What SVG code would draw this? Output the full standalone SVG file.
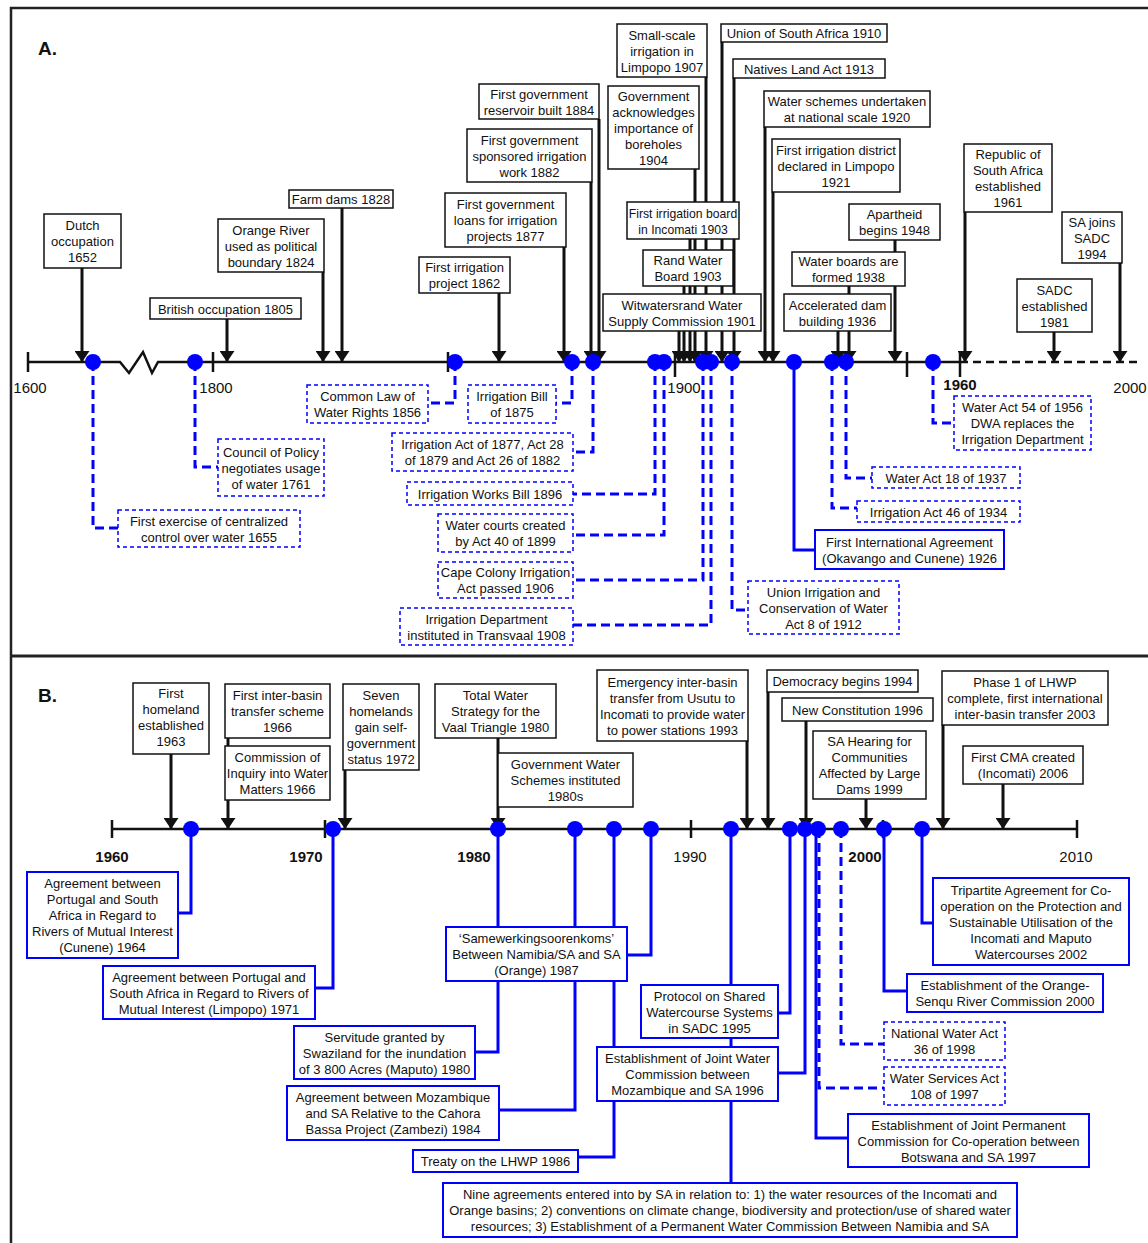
<svg xmlns="http://www.w3.org/2000/svg" width="1148" height="1243" viewBox="0 0 1148 1243">
<style>
.t{font-family:"Liberation Sans",Arial,sans-serif;font-size:13px;fill:#111;text-anchor:middle}
.yr{font-family:"Liberation Sans",Arial,sans-serif;font-size:15px;fill:#111;text-anchor:middle}
.yb{font-family:"Liberation Sans",Arial,sans-serif;font-size:15px;font-weight:bold;fill:#111;text-anchor:middle}
.pl{font-family:"Liberation Sans",Arial,sans-serif;font-size:19px;font-weight:bold;fill:#111}
.bx{fill:#fff;stroke:#111;stroke-width:1.5}
.bb{fill:#fff;stroke:#0000ff;stroke-width:2}
.bd{fill:#fff;stroke:#0000ff;stroke-width:1.5;stroke-dasharray:4 3}
.ax{stroke:#111;stroke-width:2.5;fill:none}
.axd{stroke:#111;stroke-width:2.5;fill:none;stroke-dasharray:8 5}
.ar{stroke:#111;stroke-width:3;fill:none;marker-end:url(#ah)}
.cs{stroke:#0000ff;stroke-width:3;fill:none}
.cd{stroke:#0000ff;stroke-width:3;fill:none;stroke-dasharray:9 5}
.dot{fill:#0000ff}
</style>
<defs>
<marker id="ah" viewBox="0 0 11 15" refX="11" refY="7.5" markerWidth="11" markerHeight="15" markerUnits="userSpaceOnUse" orient="auto">
<path d="M0,0 L11,7.5 L0,15 z" fill="#111"/>
</marker>
</defs>
<rect width="1148" height="1243" fill="#fff"/>
<g id="frame">
<rect x="11" y="8" width="1145" height="1245" fill="none" stroke="#222" stroke-width="2.5"/>
<line x1="11" y1="656" x2="1148" y2="656" stroke="#222" stroke-width="3"/>
<text class="pl" x="38" y="55">A.</text>
<text class="pl" x="38" y="702">B.</text>
</g>
<g id="axisA">
<path class="ax" d="M28,362 H120 L129,373 L143,352 L152,373 L158,362 H960"/>
<path class="axd" d="M960,362 H1142"/>
<path class="ax" d="M28,352 V372 M213,352 V372 M448,352 V372 M675,352 V377 M907,352 V377 M960,352 V377"/>
<text class="yr" x="30" y="393">1600</text>
<text class="yr" x="216" y="393">1800</text>
<text class="yr" x="684" y="393">1900</text>
<text class="yb" x="960" y="390">1960</text>
<text class="yr" x="1130" y="393">2000</text>
</g>
<g id="axisB">
<path class="ax" d="M112,829 H1077 M112,820 V838 M325,820 V838 M691,820 V838 M883,820 V838 M1077,820 V838"/>
<text class="yb" x="112" y="862">1960</text>
<text class="yb" x="306" y="862">1970</text>
<text class="yb" x="474" y="862">1980</text>
<text class="yr" x="690" y="862">1990</text>
<text class="yb" x="865" y="862">2000</text>
<text class="yr" x="1076" y="862">2010</text>
</g>
<g id="connectors">
<path class="ar" d="M82,268 V362"/>
<path class="ar" d="M227,319 V362"/>
<path class="ar" d="M323,272 V362"/>
<path class="ar" d="M342,208 V362"/>
<path class="ar" d="M499,293 V362"/>
<path class="ar" d="M564,247 V362"/>
<path class="ar" d="M591,182 V362"/>
<path class="ar" d="M599,119 V362"/>
<path class="ar" d="M706,77 V362"/>
<path class="ar" d="M695,169 V362"/>
<path class="ar" d="M690,239 V362"/>
<path class="ar" d="M684,286 V362"/>
<path class="ar" d="M679,331 V362"/>
<path class="ar" d="M722,42 V362"/>
<path class="ar" d="M734,78 V362"/>
<path class="ar" d="M765,127 V362"/>
<path class="ar" d="M773,192 V362"/>
<path class="ar" d="M895,240 V362"/>
<path class="ar" d="M849,286 V362"/>
<path class="ar" d="M838,331 V362"/>
<path class="ar" d="M965,212 V362"/>
<path class="ar" d="M1120,263 V362"/>
<path class="ar" d="M1054,332 V362"/>
<path class="cd" d="M93,362 V528 H118"/>
<path class="cd" d="M195,362 V467 H218"/>
<path class="cd" d="M455,362 V403 H428"/>
<path class="cd" d="M572,362 V403 H556"/>
<path class="cd" d="M593,362 V452 H573"/>
<path class="cd" d="M655,362 V494 H573"/>
<path class="cd" d="M664,362 V535 H573"/>
<path class="cd" d="M703,362 V580 H573"/>
<path class="cd" d="M711,362 V625 H573"/>
<path class="cd" d="M732,362 V610 H748"/>
<path class="cs" d="M794,362 V550 H815"/>
<path class="cd" d="M832,362 V508 H857"/>
<path class="cd" d="M846,362 V478 H872"/>
<path class="cd" d="M933,362 V423 H954"/>
<path class="ar" d="M171,754 V829"/>
<path class="ar" d="M228,738 V829"/>
<path class="ar" d="M345,770 V829"/>
<path class="ar" d="M498,738 V829"/>
<path class="ar" d="M747,741 V829"/>
<path class="ar" d="M768,692 V829"/>
<path class="ar" d="M806,721 V829"/>
<path class="ar" d="M866,799 V829"/>
<path class="ar" d="M943,725 V829"/>
<path class="ar" d="M1003,784 V829"/>
<path class="cs" d="M191,829 V913 H178"/>
<path class="cs" d="M333,829 V988 H315"/>
<path class="cs" d="M498,829 V1052 H475"/>
<path class="cs" d="M575,829 V1110 H499"/>
<path class="cs" d="M614,829 V1157 H578"/>
<path class="cs" d="M651,829 V955 H627"/>
<path class="cs" d="M731,829 V1183"/>
<path class="cs" d="M790,829 V1013 H778"/>
<path class="cs" d="M805,829 V1073 H778"/>
<path class="cs" d="M816,829 V1138 H848"/>
<path class="cd" d="M819,829 V1088 H884"/>
<path class="cd" d="M841,829 V1044 H884"/>
<path class="cs" d="M884,829 V991 H907"/>
<path class="cs" d="M922,829 V923 H933"/>
</g>
<g id="dots">
<circle class="dot" cx="93" cy="362" r="8"/>
<circle class="dot" cx="195" cy="362" r="8"/>
<circle class="dot" cx="455" cy="362" r="8"/>
<circle class="dot" cx="572" cy="362" r="8"/>
<circle class="dot" cx="593" cy="362" r="8"/>
<circle class="dot" cx="655" cy="362" r="8"/>
<circle class="dot" cx="664" cy="362" r="8"/>
<circle class="dot" cx="703" cy="362" r="8"/>
<circle class="dot" cx="711" cy="362" r="8"/>
<circle class="dot" cx="732" cy="362" r="8"/>
<circle class="dot" cx="794" cy="362" r="8"/>
<circle class="dot" cx="832" cy="362" r="8"/>
<circle class="dot" cx="846" cy="362" r="8"/>
<circle class="dot" cx="933" cy="362" r="8"/>
<circle class="dot" cx="191" cy="829" r="8"/>
<circle class="dot" cx="333" cy="829" r="8"/>
<circle class="dot" cx="498" cy="829" r="8"/>
<circle class="dot" cx="575" cy="829" r="8"/>
<circle class="dot" cx="614" cy="829" r="8"/>
<circle class="dot" cx="651" cy="829" r="8"/>
<circle class="dot" cx="731" cy="829" r="8"/>
<circle class="dot" cx="790" cy="829" r="8"/>
<circle class="dot" cx="805" cy="829" r="8"/>
<circle class="dot" cx="818" cy="829" r="8"/>
<circle class="dot" cx="841" cy="829" r="8"/>
<circle class="dot" cx="884" cy="829" r="8"/>
<circle class="dot" cx="922" cy="829" r="8"/>
</g>
<g id="a1652"><rect class="bx" x="44" y="214" width="77" height="54"/><text class="t" y="230"><tspan x="82.5">Dutch</tspan><tspan x="82.5" dy="16">occupation</tspan><tspan x="82.5" dy="16">1652</tspan></text></g>
<g id="a1805"><rect class="bx" x="150" y="298" width="151" height="21"/><text class="t" x="225.5" y="313.5">British occupation 1805</text></g>
<g id="a1824"><rect class="bx" x="218" y="219" width="106" height="53"/><text class="t" y="234.5"><tspan x="271">Orange River</tspan><tspan x="271" dy="16">used as political</tspan><tspan x="271" dy="16">boundary 1824</tspan></text></g>
<g id="a1828"><rect class="bx" x="289" y="190" width="104" height="18"/><text class="t" x="341" y="204">Farm dams 1828</text></g>
<g id="a1862"><rect class="bx" x="419" y="257" width="91" height="36"/><text class="t" y="272"><tspan x="464.5">First irrigation</tspan><tspan x="464.5" dy="16">project 1862</tspan></text></g>
<g id="a1877"><rect class="bx" x="445" y="193" width="121" height="54"/><text class="t" y="209"><tspan x="505.5">First government</tspan><tspan x="505.5" dy="16">loans for irrigation</tspan><tspan x="505.5" dy="16">projects 1877</tspan></text></g>
<g id="a1882"><rect class="bx" x="467" y="129" width="125" height="53"/><text class="t" y="144.5"><tspan x="529.5">First government</tspan><tspan x="529.5" dy="16">sponsored irrigation</tspan><tspan x="529.5" dy="16">work 1882</tspan></text></g>
<g id="a1884"><rect class="bx" x="479" y="84" width="120" height="35"/><text class="t" y="98.5"><tspan x="539">First government</tspan><tspan x="539" dy="16">reservoir built 1884</tspan></text></g>
<g id="a1907"><rect class="bx" x="617" y="24" width="90" height="53"/><text class="t" y="39.5"><tspan x="662">Small-scale</tspan><tspan x="662" dy="16">irrigation in</tspan><tspan x="662" dy="16">Limpopo 1907</tspan></text></g>
<g id="a1904"><rect class="bx" x="608" y="86" width="91" height="83"/><text class="t" y="100.5"><tspan x="653.5">Government</tspan><tspan x="653.5" dy="16">acknowledges</tspan><tspan x="653.5" dy="16">importance of</tspan><tspan x="653.5" dy="16">boreholes</tspan><tspan x="653.5" dy="16">1904</tspan></text></g>
<g id="a1903b"><rect class="bx" x="627" y="202" width="112" height="37"/><text class="t" y="217.5" style="font-size:12.2px"><tspan x="683">First irrigation board</tspan><tspan x="683" dy="16">in Incomati 1903</tspan></text></g>
<g id="a1903r"><rect class="bx" x="643" y="250" width="90" height="36"/><text class="t" y="265"><tspan x="688">Rand Water</tspan><tspan x="688" dy="16">Board 1903</tspan></text></g>
<g id="a1901"><rect class="bx" x="603" y="294" width="158" height="37"/><text class="t" y="309.5"><tspan x="682">Witwatersrand Water</tspan><tspan x="682" dy="16">Supply Commission 1901</tspan></text></g>
<g id="a1910"><rect class="bx" x="721" y="24" width="166" height="18"/><text class="t" x="804" y="38">Union of South Africa 1910</text></g>
<g id="a1913"><rect class="bx" x="733" y="59" width="152" height="19"/><text class="t" x="809" y="73.5">Natives Land Act 1913</text></g>
<g id="a1920"><rect class="bx" x="764" y="91" width="166" height="36"/><text class="t" y="106"><tspan x="847">Water schemes undertaken</tspan><tspan x="847" dy="16">at national scale 1920</tspan></text></g>
<g id="a1921"><rect class="bx" x="772" y="139" width="128" height="53"/><text class="t" y="154.5"><tspan x="836">First irrigation district</tspan><tspan x="836" dy="16">declared in Limpopo</tspan><tspan x="836" dy="16">1921</tspan></text></g>
<g id="a1948"><rect class="bx" x="849" y="204" width="91" height="36"/><text class="t" y="219"><tspan x="894.5">Apartheid</tspan><tspan x="894.5" dy="16">begins 1948</tspan></text></g>
<g id="a1938"><rect class="bx" x="792" y="252" width="113" height="34"/><text class="t" y="266"><tspan x="848.5">Water boards are</tspan><tspan x="848.5" dy="16">formed 1938</tspan></text></g>
<g id="a1936"><rect class="bx" x="784" y="294" width="107" height="37"/><text class="t" y="309.5"><tspan x="837.5">Accelerated dam</tspan><tspan x="837.5" dy="16">building 1936</tspan></text></g>
<g id="a1961"><rect class="bx" x="964" y="144" width="88" height="68"/><text class="t" y="159"><tspan x="1008">Republic of</tspan><tspan x="1008" dy="16">South Africa</tspan><tspan x="1008" dy="16">established</tspan><tspan x="1008" dy="16">1961</tspan></text></g>
<g id="a1994"><rect class="bx" x="1062" y="212" width="60" height="51"/><text class="t" y="226.5"><tspan x="1092">SA joins</tspan><tspan x="1092" dy="16">SADC</tspan><tspan x="1092" dy="16">1994</tspan></text></g>
<g id="a1981"><rect class="bx" x="1017" y="279" width="75" height="53"/><text class="t" y="294.5"><tspan x="1054.5">SADC</tspan><tspan x="1054.5" dy="16">established</tspan><tspan x="1054.5" dy="16">1981</tspan></text></g>
<g id="w1655"><rect class="bd" x="118" y="510" width="182" height="37"/><text class="t" y="525.5"><tspan x="209">First exercise of centralized</tspan><tspan x="209" dy="16">control over water 1655</tspan></text></g>
<g id="w1761"><rect class="bd" x="218" y="439" width="106" height="57"/><text class="t" y="456.5"><tspan x="271">Council of Policy</tspan><tspan x="271" dy="16">negotiates usage</tspan><tspan x="271" dy="16">of water 1761</tspan></text></g>
<g id="w1856"><rect class="bd" x="307" y="385" width="121" height="38"/><text class="t" y="401"><tspan x="367.5">Common Law of</tspan><tspan x="367.5" dy="16">Water Rights 1856</tspan></text></g>
<g id="w1875"><rect class="bd" x="468" y="385" width="88" height="38"/><text class="t" y="401"><tspan x="512">Irrigation Bill</tspan><tspan x="512" dy="16">of 1875</tspan></text></g>
<g id="w1877"><rect class="bd" x="392" y="433" width="181" height="38"/><text class="t" y="449"><tspan x="482.5">Irrigation Act of 1877, Act 28</tspan><tspan x="482.5" dy="16">of 1879 and Act 26 of 1882</tspan></text></g>
<g id="w1896"><rect class="bd" x="407" y="482" width="166" height="23"/><text class="t" x="490" y="498.5">Irrigation Works Bill 1896</text></g>
<g id="w1899"><rect class="bd" x="438" y="514" width="135" height="38"/><text class="t" y="530"><tspan x="505.5">Water courts created</tspan><tspan x="505.5" dy="16">by Act 40 of 1899</tspan></text></g>
<g id="w1906"><rect class="bd" x="438" y="562" width="135" height="36"/><text class="t" y="577"><tspan x="505.5">Cape Colony Irrigation</tspan><tspan x="505.5" dy="16">Act passed 1906</tspan></text></g>
<g id="w1908"><rect class="bd" x="400" y="608" width="173" height="37"/><text class="t" y="623.5"><tspan x="486.5">Irrigation Department</tspan><tspan x="486.5" dy="16">instituted in Transvaal 1908</tspan></text></g>
<g id="w1912"><rect class="bd" x="748" y="581" width="151" height="53"/><text class="t" y="596.5"><tspan x="823.5">Union Irrigation and</tspan><tspan x="823.5" dy="16">Conservation of Water</tspan><tspan x="823.5" dy="16">Act 8 of 1912</tspan></text></g>
<g id="w1926"><rect class="bb" x="815" y="530" width="189" height="39"/><text class="t" y="546.5"><tspan x="909.5">First International Agreement</tspan><tspan x="909.5" dy="16">(Okavango and Cunene) 1926</tspan></text></g>
<g id="w1934"><rect class="bd" x="857" y="501" width="163" height="21"/><text class="t" x="938.5" y="516.5">Irrigation Act 46 of 1934</text></g>
<g id="w1937"><rect class="bd" x="872" y="467" width="148" height="21"/><text class="t" x="946" y="482.5">Water Act 18 of 1937</text></g>
<g id="w1956"><rect class="bd" x="954" y="396" width="137" height="54"/><text class="t" y="412"><tspan x="1022.5">Water Act 54 of 1956</tspan><tspan x="1022.5" dy="16">DWA replaces the</tspan><tspan x="1022.5" dy="16">Irrigation Department</tspan></text></g>
<g id="b1963"><rect class="bx" x="133" y="683" width="76" height="71"/><text class="t" y="698"><tspan x="171">First</tspan><tspan x="171" dy="16">homeland</tspan><tspan x="171" dy="16">established</tspan><tspan x="171" dy="16">1963</tspan></text></g>
<g id="b1966a"><rect class="bx" x="225" y="684" width="105" height="54"/><text class="t" y="700"><tspan x="277.5">First inter-basin</tspan><tspan x="277.5" dy="16">transfer scheme</tspan><tspan x="277.5" dy="16">1966</tspan></text></g>
<g id="b1966b"><rect class="bx" x="225" y="746" width="105" height="54"/><text class="t" y="762"><tspan x="277.5">Commission of</tspan><tspan x="277.5" dy="16">Inquiry into Water</tspan><tspan x="277.5" dy="16">Matters 1966</tspan></text></g>
<g id="b1972"><rect class="bx" x="343" y="684" width="76" height="86"/><text class="t" y="700"><tspan x="381">Seven</tspan><tspan x="381" dy="16">homelands</tspan><tspan x="381" dy="16">gain self-</tspan><tspan x="381" dy="16">government</tspan><tspan x="381" dy="16">status 1972</tspan></text></g>
<g id="b1980"><rect class="bx" x="435" y="684" width="121" height="54"/><text class="t" y="700"><tspan x="495.5">Total Water</tspan><tspan x="495.5" dy="16">Strategy for the</tspan><tspan x="495.5" dy="16">Vaal Triangle 1980</tspan></text></g>
<g id="b1980s"><rect class="bx" x="498" y="753" width="135" height="54"/><text class="t" y="769"><tspan x="565.5">Government Water</tspan><tspan x="565.5" dy="16">Schemes instituted</tspan><tspan x="565.5" dy="16">1980s</tspan></text></g>
<g id="b1993"><rect class="bx" x="597" y="670" width="151" height="71"/><text class="t" y="686.5"><tspan x="672.5">Emergency inter-basin</tspan><tspan x="672.5" dy="16">transfer from Usutu to</tspan><tspan x="672.5" dy="16">Incomati to provide water</tspan><tspan x="672.5" dy="16">to power stations 1993</tspan></text></g>
<g id="b1994"><rect class="bx" x="767" y="670" width="151" height="22"/><text class="t" x="842.5" y="686">Democracy begins 1994</text></g>
<g id="b1996"><rect class="bx" x="782" y="698" width="151" height="23"/><text class="t" x="857.5" y="714.5">New Constitution 1996</text></g>
<g id="b1999"><rect class="bx" x="813" y="731" width="113" height="68"/><text class="t" y="746"><tspan x="869.5">SA Hearing for</tspan><tspan x="869.5" dy="16">Communities</tspan><tspan x="869.5" dy="16">Affected by Large</tspan><tspan x="869.5" dy="16">Dams 1999</tspan></text></g>
<g id="b2003"><rect class="bx" x="942" y="671" width="166" height="54"/><text class="t" y="687"><tspan x="1025">Phase 1 of LHWP</tspan><tspan x="1025" dy="16">complete, first international</tspan><tspan x="1025" dy="16">inter-basin transfer 2003</tspan></text></g>
<g id="b2006"><rect class="bx" x="963" y="746" width="120" height="38"/><text class="t" y="762"><tspan x="1023">First CMA created</tspan><tspan x="1023" dy="16">(Incomati) 2006</tspan></text></g>
<g id="c1964"><rect class="bb" x="27" y="872" width="151" height="86"/><text class="t" y="888"><tspan x="102.5">Agreement between</tspan><tspan x="102.5" dy="16">Portugal and South</tspan><tspan x="102.5" dy="16">Africa in Regard to</tspan><tspan x="102.5" dy="16">Rivers of Mutual Interest</tspan><tspan x="102.5" dy="16">(Cunene) 1964</tspan></text></g>
<g id="c1971"><rect class="bb" x="103" y="966" width="212" height="53"/><text class="t" y="981.5"><tspan x="209">Agreement between Portugal and</tspan><tspan x="209" dy="16">South Africa in Regard to Rivers of</tspan><tspan x="209" dy="16">Mutual Interest (Limpopo) 1971</tspan></text></g>
<g id="c1987"><rect class="bb" x="446" y="927" width="181" height="54"/><text class="t" y="943"><tspan x="536.5">‘Samewerkingsoorenkoms’</tspan><tspan x="536.5" dy="16">Between Namibia/SA and SA</tspan><tspan x="536.5" dy="16">(Orange) 1987</tspan></text></g>
<g id="c1980"><rect class="bb" x="294" y="1026" width="181" height="53"/><text class="t" y="1041.5"><tspan x="384.5">Servitude granted by</tspan><tspan x="384.5" dy="16">Swaziland for the inundation</tspan><tspan x="384.5" dy="16">of 3 800 Acres (Maputo) 1980</tspan></text></g>
<g id="c1984"><rect class="bb" x="287" y="1086" width="212" height="54"/><text class="t" y="1102"><tspan x="393">Agreement between Mozambique</tspan><tspan x="393" dy="16">and SA Relative to the Cahora</tspan><tspan x="393" dy="16">Bassa Project (Zambezi) 1984</tspan></text></g>
<g id="c1986"><rect class="bb" x="413" y="1150" width="165" height="22"/><text class="t" x="495.5" y="1166">Treaty on the LHWP 1986</text></g>
<g id="c1995"><rect class="bb" x="641" y="985" width="137" height="53"/><text class="t" y="1000.5"><tspan x="709.5">Protocol on Shared</tspan><tspan x="709.5" dy="16">Watercourse Systems</tspan><tspan x="709.5" dy="16">in SADC 1995</tspan></text></g>
<g id="c1996"><rect class="bb" x="597" y="1047" width="181" height="54"/><text class="t" y="1063"><tspan x="687.5">Establishment of Joint Water</tspan><tspan x="687.5" dy="16">Commission between</tspan><tspan x="687.5" dy="16">Mozambique and SA 1996</tspan></text></g>
<g id="c1996n"><rect class="bb" x="443" y="1183" width="574" height="54"/><text class="t" y="1199"><tspan x="730">Nine agreements entered into by SA in relation to: 1) the water resources of the Incomati and</tspan><tspan x="730" dy="16">Orange basins; 2) conventions on climate change, biodiversity and protection/use of shared water</tspan><tspan x="730" dy="16">resources; 3) Establishment of a Permanent Water Commission Between Namibia and SA</tspan></text></g>
<g id="c2002"><rect class="bb" x="933" y="878" width="196" height="87"/><text class="t" y="894.5"><tspan x="1031">Tripartite Agreement for Co-</tspan><tspan x="1031" dy="16">operation on the Protection and</tspan><tspan x="1031" dy="16">Sustainable Utilisation of the</tspan><tspan x="1031" dy="16">Incomati and Maputo</tspan><tspan x="1031" dy="16">Watercourses 2002</tspan></text></g>
<g id="c2000"><rect class="bb" x="907" y="974" width="196" height="38"/><text class="t" y="990"><tspan x="1005">Establishment of the Orange-</tspan><tspan x="1005" dy="16">Senqu River Commission 2000</tspan></text></g>
<g id="c1998"><rect class="bd" x="884" y="1022" width="121" height="38"/><text class="t" y="1038"><tspan x="944.5">National Water Act</tspan><tspan x="944.5" dy="16">36 of 1998</tspan></text></g>
<g id="c1997w"><rect class="bd" x="884" y="1067" width="121" height="38"/><text class="t" y="1083"><tspan x="944.5">Water Services Act</tspan><tspan x="944.5" dy="16">108 of 1997</tspan></text></g>
<g id="c1997b"><rect class="bb" x="848" y="1114" width="241" height="53"/><text class="t" y="1129.5"><tspan x="968.5">Establishment of Joint Permanent</tspan><tspan x="968.5" dy="16">Commission for Co-operation between</tspan><tspan x="968.5" dy="16">Botswana and SA 1997</tspan></text></g>
</svg>
